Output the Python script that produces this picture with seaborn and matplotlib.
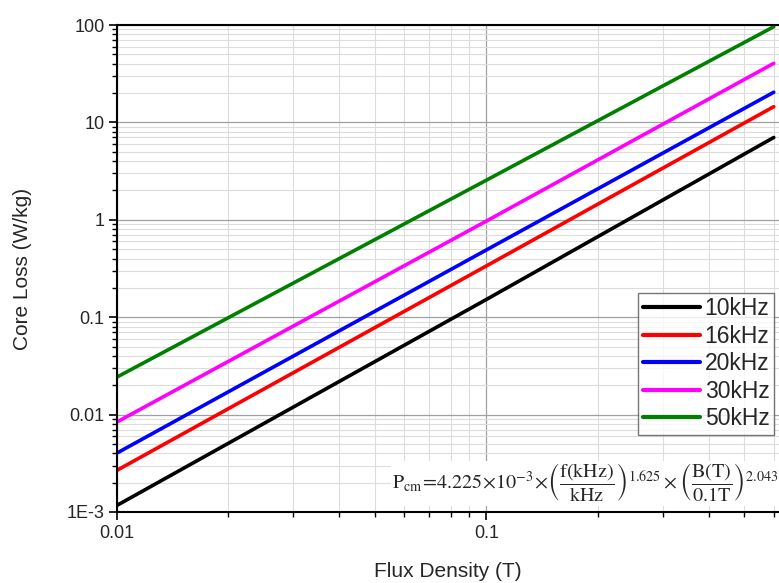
import numpy as np
import pandas as pd
import matplotlib
matplotlib.use("Agg")
import matplotlib.pyplot as plt
import matplotlib.ticker as mticker
import seaborn as sns

# values (log-log straight lines)
flux = [0.01, 0.1, 0.6]
loss_10k = [0.00117, 0.152, 7.0]
loss_16k = [0.00268, 0.336, 14.5]
loss_20k = [0.00403, 0.49, 20.4]
loss_30k = [0.0084, 0.97, 40.4]
loss_50k = [0.0243, 2.55, 96.0]
freqs = ['10kHz', '16kHz', '20kHz', '30kHz', '50kHz']
colors = ['black', 'red', 'blue', 'magenta', 'green']

ytick_vals = [1e-3, 1e-2, 1e-1, 1, 10, 100]
ytick_labels = ['1E-3', '0.01', '0.1', '1', '10', '100']
xtick_vals = [0.01, 0.1]
xtick_labels = ['0.01', '0.1']

rows = []
for name, vals in zip(freqs, [loss_10k, loss_16k, loss_20k, loss_30k, loss_50k]):
    for b, p in zip(flux, vals):
        rows.append({'B': b, 'P': p, 'freq': name})
df = pd.DataFrame(rows)

sns.set_style("white")
plt.rcParams['font.family'] = ['Liberation Sans', 'DejaVu Sans']
plt.rcParams['mathtext.fontset'] = 'stix'

fig = plt.figure(figsize=(7.79, 5.83), dpi=100)
ax = fig.add_axes([117 / 779, 1 - 512 / 583, 1 - 117 / 779, (512 - 25) / 583])

sns.lineplot(data=df, x='B', y='P', hue='freq', palette=colors, linewidth=2.6,
             ax=ax, legend=True)

ax.set_xscale('log')
ax.set_yscale('log')
ax.set_xlim(0.01, 0.62)
ax.set_ylim(1e-3, 100)

ax.set_yticks(ytick_vals)
ax.set_yticklabels(ytick_labels)
ax.set_xticks(xtick_vals)
ax.set_xticklabels(xtick_labels)
ax.xaxis.set_minor_locator(mticker.LogLocator(base=10, subs=np.arange(2, 10)))
ax.yaxis.set_minor_locator(mticker.LogLocator(base=10, subs=np.arange(2, 10)))
ax.xaxis.set_minor_formatter(mticker.NullFormatter())
ax.yaxis.set_minor_formatter(mticker.NullFormatter())

ax.tick_params(which='major', direction='out', length=6, width=1.2, labelsize=13,
               pad=3, color='black', bottom=True, left=True)
ax.tick_params(which='minor', direction='out', length=3.5, width=1.0,
               color='black', bottom=True, left=True)

ax.grid(which='major', color='#a0a0a0', linewidth=0.9)
ax.grid(which='minor', color='#dcdcdc', linewidth=0.8)
ax.set_axisbelow(True)

for side in ['left', 'bottom', 'top']:
    ax.spines[side].set_color('black')
    ax.spines[side].set_linewidth(1.5)
ax.spines['right'].set_visible(False)

ax.set_xlabel('Flux Density (T)', fontsize=15)
ax.set_ylabel('Core Loss (W/kg)', fontsize=15)
ax.xaxis.set_label_coords(0.5, -0.103)
ax.yaxis.set_label_coords(-0.128, 0.5)

leg = ax.legend(loc='lower right', bbox_to_anchor=(0.9925, 0.158), fontsize=16.5,
                frameon=True, fancybox=False, handlelength=2.5, handletextpad=0.2,
                borderpad=0.2, labelspacing=0.2, borderaxespad=0)
leg.get_frame().set_edgecolor('#555555')
leg.get_frame().set_linewidth(1.0)
for line in leg.get_lines():
    line.set_linewidth(3)

formula = (r'$\mathrm{P_{cm}}\!=\!4.225\!\times\!10^{-3}\!\times\!'
           r'\left(\dfrac{\mathrm{f(kHz)}}{\mathrm{kHz}}\right)^{1.625}\times'
           r'\left(\dfrac{\mathrm{B(T)}}{\mathrm{0.1T}}\right)^{2.043}$')
ax.text(0.999, 0.016, formula, transform=ax.transAxes, ha='right', va='bottom',
        fontsize=14.5, bbox=dict(facecolor='white', edgecolor='none', pad=1))

fig.savefig('out.png', dpi=100)
